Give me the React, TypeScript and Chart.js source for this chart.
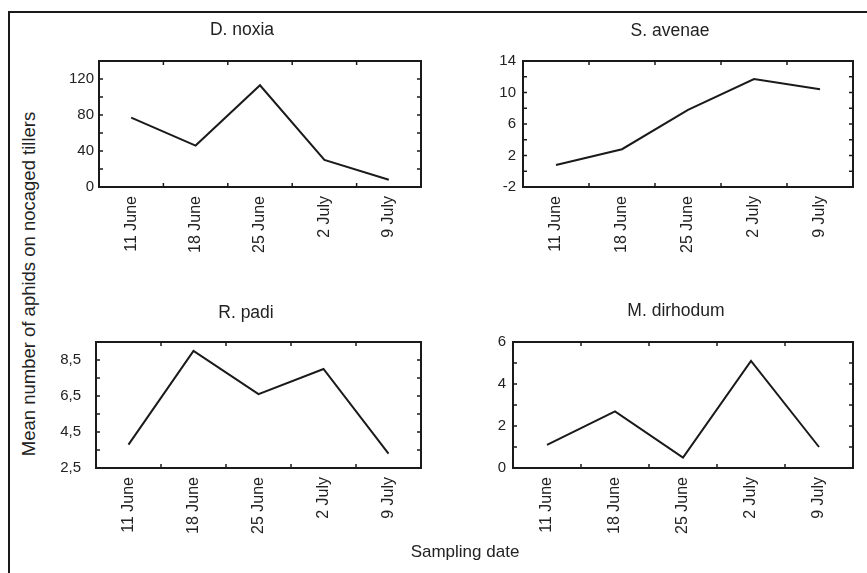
import React, { useEffect, useRef } from "react";
import { Chart, registerables } from "chart.js";

Chart.register(...registerables);

// ---- data ----
const dates = ["11 June", "18 June", "25 June", "2 July", "9 July"];
const titles = ["D. noxia", "S. avenae", "R. padi", "M. dirhodum"];
const noxia = [77, 46, 113, 30, 8];
const avenae = [0.8, 2.8, 7.8, 11.7, 10.4];
const padi = [3.8, 9.0, 6.6, 8.0, 3.3];
const dirhodum = [1.1, 2.7, 0.5, 5.1, 1.0];
const yMin = [0, -2, 2.5, 0];
const yMax = [140, 14, 9.5, 6];
const yStep = [20, 2, 1, 1];
const yLabelStep = [40, 4, 2, 2];
const yTitle = "Mean number of aphids on nocaged tillers";
const xTitle = "Sampling date";

const INK = "#1a1a1a";
const TXT = "#222222";
const FONT = "'Liberation Sans', Arial, Helvetica, sans-serif";

// ---- layout (positions only) ----
type Layout = {
  cl: number; ct: number; plotLeft: number; plotRight: number; plotTop: number;
  plotBottom: number; xH: number; yPad: number; titleX: number; titleY: number;
};
const layouts: Layout[] = [
  { cl: 50, ct: 14, plotLeft: 99, plotRight: 421, plotTop: 61, plotBottom: 187, xH: 80, yPad: 5, titleX: 242, titleY: 30.5 },
  { cl: 475, ct: 14, plotLeft: 523, plotRight: 853, plotTop: 61, plotBottom: 187, xH: 80, yPad: 7, titleX: 670, titleY: 31 },
  { cl: 50, ct: 290, plotLeft: 96, plotRight: 421, plotTop: 342, plotBottom: 468, xH: 80, yPad: 15, titleX: 246, titleY: 313 },
  { cl: 475, ct: 290, plotLeft: 513, plotRight: 853, plotTop: 342, plotBottom: 468, xH: 80, yPad: 7, titleX: 676, titleY: 311.5 },
];

const framePlugin = {
  id: "frameTicks",
  afterDatasetsDraw(chart: any) {
    const { ctx, chartArea: a, scales } = chart;
    const seg = (x1: number, y1: number, x2: number, y2: number) => {
      ctx.beginPath();
      ctx.moveTo(x1, y1);
      ctx.lineTo(x2, y2);
      ctx.stroke();
    };
    ctx.save();
    ctx.strokeStyle = INK;
    ctx.lineWidth = 1.5;
    const ys = scales.y;
    ys.ticks.forEach((_t: any, i: number) => {
      const p = ys.getPixelForTick(i);
      if (Math.abs(p - a.top) < 1.5 || Math.abs(p - a.bottom) < 1.5) return;
      seg(a.left, p, a.left + 4, p);
      seg(a.right, p, a.right - 4, p);
    });
    const xs = scales.x;
    for (let i = 0; i < xs.ticks.length - 1; i++) {
      const p = (xs.getPixelForTick(i) + xs.getPixelForTick(i + 1)) / 2;
      seg(p, a.top, p, a.top + 4);
      seg(p, a.bottom, p, a.bottom - 4);
    }
    ctx.lineWidth = 2;
    ctx.strokeRect(a.left, a.top, a.right - a.left, a.bottom - a.top);
    ctx.restore();
  },
};

function fmt(v: number, idx: number): string {
  const base = yMin[idx];
  const k = Math.round(((v - base) / yLabelStep[idx]) * 1000) / 1000;
  if (Math.abs(k - Math.round(k)) > 1e-6) return "";
  if (idx === 0 && v > 120) return "";
  if (idx === 2) return v.toFixed(1).replace(".", ",");
  return String(Math.round(v * 100) / 100);
}

function Panel({ idx, values }: { idx: number; values: number[] }) {
  const ref = useRef<HTMLCanvasElement | null>(null);
  const L = layouts[idx];
  const pr = 8;
  const cw = L.plotRight - L.cl + pr;
  const ch = L.plotBottom + L.xH - L.ct;
  const yW = L.plotLeft - L.cl;

  useEffect(() => {
    if (!ref.current) return;
    const titlePlugin = {
      id: "panelTitle",
      afterDraw(chart: any) {
        const ctx = chart.ctx;
        ctx.save();
        ctx.font = `normal 17.5px ${FONT}`;
        ctx.fillStyle = TXT;
        ctx.textAlign = "center";
        ctx.textBaseline = "middle";
        ctx.fillText(titles[idx], L.titleX - L.cl, L.titleY - L.ct);
        ctx.restore();
      },
    };
    const chart = new Chart(ref.current, {
      type: "line",
      data: {
        labels: dates,
        datasets: [
          {
            data: values,
            borderColor: INK,
            borderWidth: 2,
            pointRadius: 0,
            tension: 0,
            fill: false,
          },
        ],
      },
      options: {
        responsive: false,
        animation: false,
        devicePixelRatio: 1,
        layout: { padding: { left: 0, right: pr, top: L.plotTop - L.ct, bottom: 0 } },
        plugins: {
          legend: { display: false },
          tooltip: { enabled: false },
          title: { display: false },
        },
        scales: {
          x: {
            type: "category",
            offset: true,
            grid: { display: false, drawTicks: false },
            border: { display: false },
            ticks: {
              color: TXT,
              font: { family: FONT, size: 16 },
              maxRotation: 90,
              minRotation: 90,
              autoSkip: false,
              padding: 9,
            },
            afterFit: (s: any) => {
              s.height = L.xH;
            },
          },
          y: {
            type: "linear",
            min: yMin[idx],
            max: yMax[idx],
            grid: { display: false, drawTicks: false },
            border: { display: false },
            ticks: {
              stepSize: yStep[idx],
              color: TXT,
              font: { family: FONT, size: 15 },
              padding: L.yPad,
              autoSkip: false,
              callback: (v: any) => fmt(Number(v), idx),
            },
            afterFit: (s: any) => {
              s.width = yW;
            },
          },
        },
      },
      plugins: [framePlugin, titlePlugin],
    });
    return () => chart.destroy();
  }, []);

  return (
    <canvas
      ref={ref}
      width={cw}
      height={ch}
      style={{ position: "absolute", left: L.cl, top: L.ct, width: cw, height: ch, display: "block" }}
    />
  );
}

export default function App() {
  const series = [noxia, avenae, padi, dirhodum];
  return (
    <div
      style={{
        position: "absolute",
        left: 0,
        top: 0,
        width: 867,
        height: 573,
        overflow: "hidden",
        background: "#ffffff",
        fontFamily: FONT,
      }}
    >
      <div
        style={{
          position: "absolute",
          left: 8,
          top: 11,
          width: 859,
          height: 562,
          borderLeft: `2px solid ${INK}`,
          borderTop: `2px solid ${INK}`,
          boxSizing: "border-box",
        }}
      />
      {series.map((s, i) => (
        <Panel key={i} idx={i} values={s} />
      ))}
      <div
        style={{
          position: "absolute",
          left: 29,
          top: 284,
          transform: "translate(-50%, -50%) rotate(-90deg)",
          whiteSpace: "nowrap",
          fontSize: 18.5,
          color: TXT,
          lineHeight: 1,
        }}
      >
        {yTitle}
      </div>
      <div
        style={{
          position: "absolute",
          left: 465,
          top: 551,
          transform: "translate(-50%, -50%)",
          whiteSpace: "nowrap",
          fontSize: 17,
          color: TXT,
          lineHeight: 1,
        }}
      >
        {xTitle}
      </div>
    </div>
  );
}
